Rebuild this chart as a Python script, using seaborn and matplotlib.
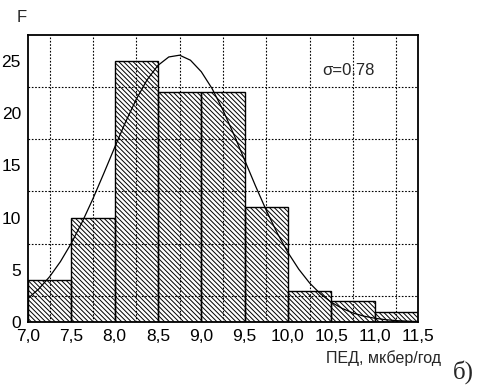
import numpy as np
import pandas as pd
import matplotlib
matplotlib.use("Agg")
import matplotlib.pyplot as plt
import seaborn as sns

# data
bin_edges = [7.0, 7.5, 8.0, 8.5, 9.0, 9.5, 10.0, 10.5, 11.0, 11.5]
counts = [4, 10, 25, 22, 22, 11, 3, 2, 1]
sigma_label = "σ=0.78"

# normal fit curve
curve_x = [7.0, 7.125, 7.25, 7.375, 7.5, 7.625, 7.75, 7.875, 8.0, 8.125, 8.25,
           8.375, 8.5, 8.625, 8.75, 8.875, 9.0, 9.125, 9.25, 9.375, 9.5, 9.625,
           9.75, 9.875, 10.0, 10.125, 10.25, 10.375, 10.5, 10.625, 10.75,
           10.875, 11.0, 11.125, 11.25, 11.375, 11.5]
curve_y = [2.25, 3.16, 4.33, 5.78, 7.53, 9.55, 11.80, 14.22, 16.70, 19.12, 21.33,
           23.19, 24.57, 25.38, 25.55, 25.07, 23.97, 22.35, 20.30, 17.97, 15.51,
           13.04, 10.69, 8.54, 6.65, 5.05, 3.73, 2.69, 1.89, 1.30, 0.86,
           0.56, 0.36, 0.22, 0.13, 0.08, 0.04]

x_ticks = [7.0, 7.5, 8.0, 8.5, 9.0, 9.5, 10.0, 10.5, 11.0, 11.5]
y_ticks = [0, 5, 10, 15, 20, 25]

sns.set_style("white")
plt.rcParams['font.family'] = ['Liberation Sans', 'DejaVu Sans']
plt.rcParams['hatch.linewidth'] = 0.7

fig = plt.figure(figsize=(4.81, 3.87), dpi=100)
ax = fig.add_axes([0.058, 0.168, 0.811, 0.742])

centers = [(bin_edges[i] + bin_edges[i + 1]) / 2 for i in range(len(counts))]
df = pd.DataFrame({"x": centers, "w": counts})
sns.histplot(data=df, x="x", weights="w", bins=bin_edges, ax=ax,
             color="white", edgecolor="black", linewidth=1.0, alpha=1)
for p in ax.patches:
    p.set_facecolor("none")
    p.set_edgecolor("black")
    p.set_hatch("\\" * 7)
    p.set_zorder(2)

sns.lineplot(x=curve_x, y=curve_y, ax=ax, color="black", linewidth=0.9, zorder=3)

ax.set_xlim(7.0, 11.5)
ax.set_ylim(0, 27.5)
ax.set_xticks(x_ticks)
ax.set_xticklabels([f"{v:.1f}".replace(".", ",") for v in x_ticks])
ax.set_yticks(y_ticks)
ax.set_xticks(np.arange(7.25, 11.5, 0.5), minor=True)
ax.set_yticks([2.5, 7.5, 12.5, 17.5, 22.5], minor=True)
ax.set_axisbelow(False)
ax.grid(which="minor", color="black", linestyle=(0, (1.5, 1.5)), linewidth=0.8)
ax.grid(which="major", visible=False)
ax.tick_params(which="major", direction="out", length=3, width=1, labelsize=12.5,
               pad=2, colors="black")
ax.tick_params(which="minor", direction="out", length=2, width=0.8)
ax.set_xlabel("")
ax.set_ylabel("")
for s in ax.spines.values():
    s.set_color("black")
    s.set_linewidth(1.3)
    s.set_visible(True)

ax.text(10.39, 24.1, sigma_label, fontsize=12, va="center", ha="left")
fig.text(22 / 481, 1 - 18 / 387, "F", fontsize=12, ha="center", va="center")
fig.text(384 / 481, 1 - 358 / 387, "ПЕД, мкбер/год", fontsize=11.5, ha="center", va="center")
fig.text(463 / 481, 1 - 372 / 387, "б)", fontsize=18, ha="center", va="center",
         family=["Liberation Serif", "DejaVu Serif"])

fig.savefig("out.png", dpi=100)
